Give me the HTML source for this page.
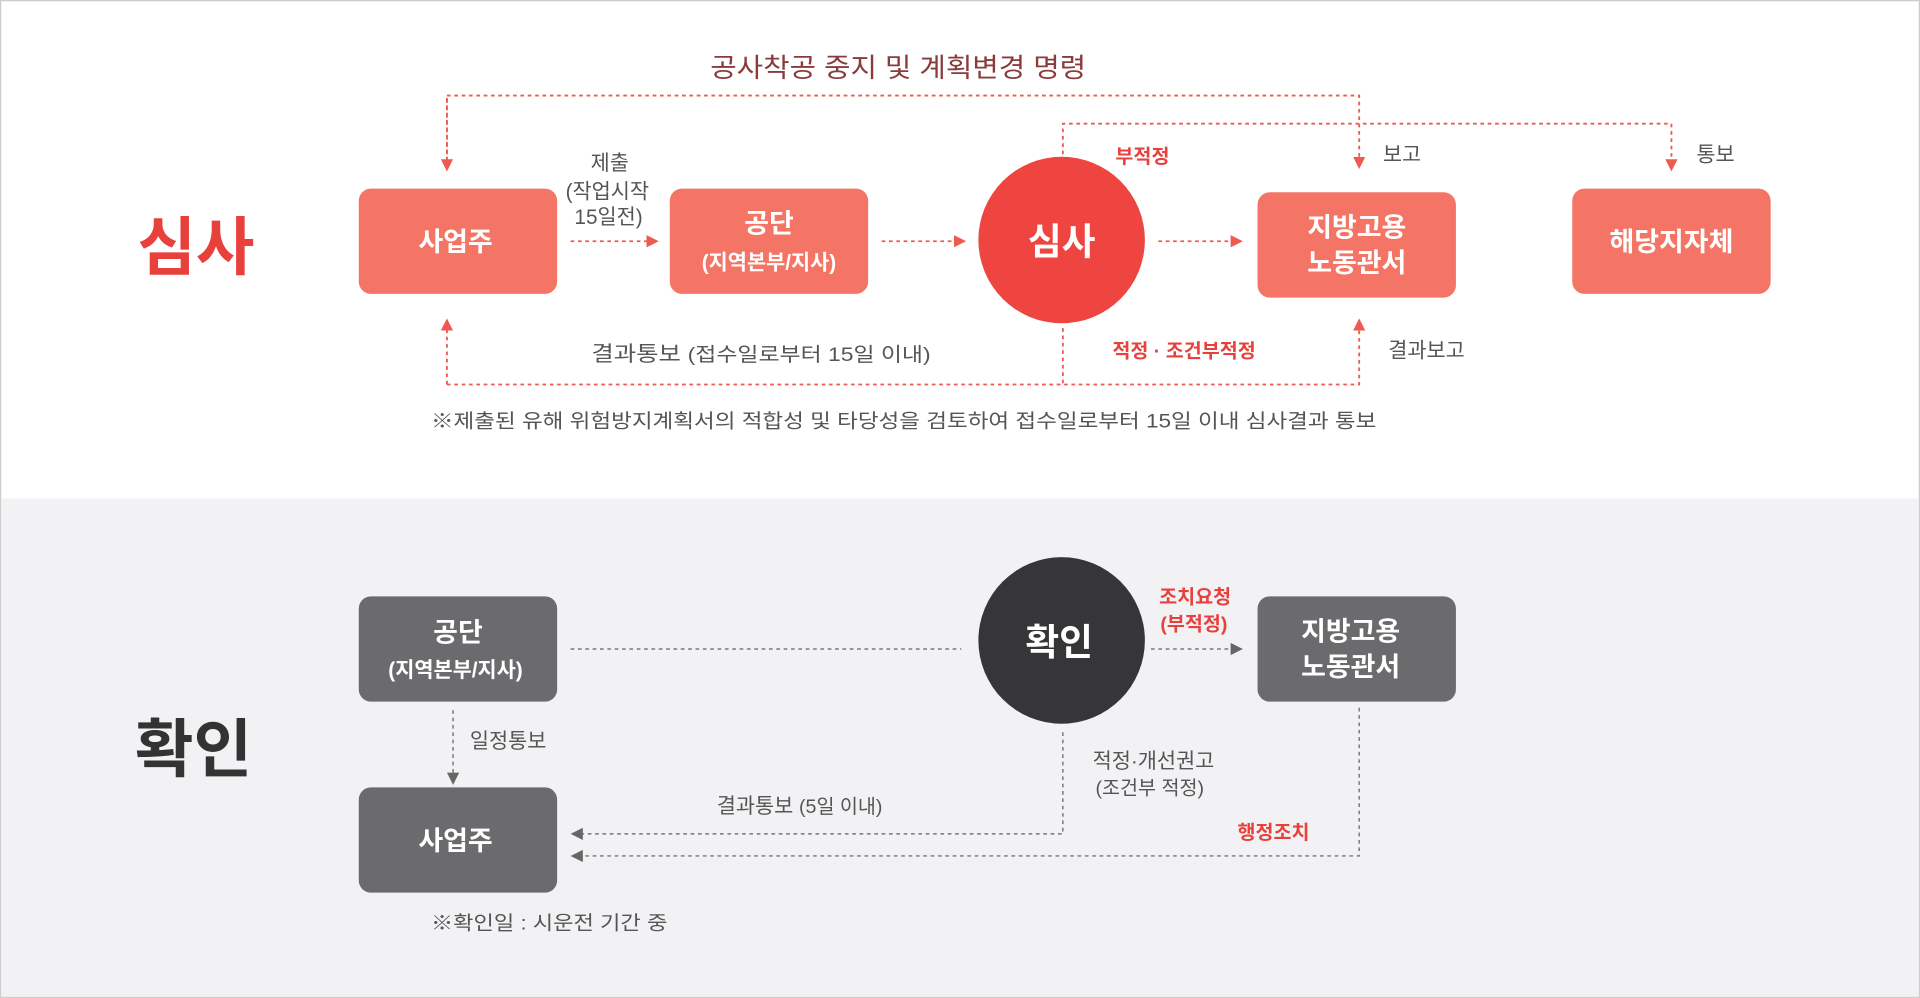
<!DOCTYPE html>
<html><head><meta charset="utf-8"><style>
html,body{margin:0;padding:0;background:#fff;}
svg{display:block;}
text{font-family:"Liberation Sans","Noto Sans CJK KR",sans-serif;}
</style></head><body>
<svg width="1920" height="998" viewBox="0 0 1568 815" xmlns="http://www.w3.org/2000/svg">
<defs>
<marker id="ar" markerWidth="10" markerHeight="10" refX="8" refY="5" orient="auto" markerUnits="userSpaceOnUse"><path d="M0,0 L10,5 L0,10 z" fill="#ee5a50"/></marker>
<marker id="ag" markerWidth="10" markerHeight="10" refX="8" refY="5" orient="auto" markerUnits="userSpaceOnUse"><path d="M0,0 L10,5 L0,10 z" fill="#666"/></marker>
</defs>
<rect x="0.5" y="0.5" width="1567" height="814" fill="#fff" stroke="#ccc"/>
<rect x="1" y="407" width="1566" height="407" fill="#f2f2f4"/>

<!-- TOP -->
<text x="160" y="220" font-size="52" font-weight="bold" fill="#e8413c" text-anchor="middle">심사</text>
<text x="580" y="63" font-size="22" fill="#8a3b3b" textLength="307" lengthAdjust="spacingAndGlyphs">공사착공 중지 및 계획변경 명령</text>
<g fill="none" stroke="#ee5a50" stroke-width="1.5" stroke-dasharray="3,3">
<path d="M365 138 V78 H1110 V136" marker-end="url(#ar)"/>
<path d="M365 80 V138" marker-end="url(#ar)"/>
<path d="M868 126 V101 H1365 V138" marker-end="url(#ar)"/>
<path d="M466 197 H536" marker-end="url(#ar)"/>
<path d="M720 197 H787" marker-end="url(#ar)"/>
<path d="M946 197 H1013" marker-end="url(#ar)"/>
<path d="M365 314 V262" marker-end="url(#ar)"/>
<path d="M365 314 H1110 V262" marker-end="url(#ar)"/>
<path d="M868 268 V314"/>
</g>
<rect x="293" y="154" width="162" height="86" rx="10" fill="#f47565"/>
<text x="372" y="205" font-size="22" font-weight="bold" fill="#fff" text-anchor="middle">사업주</text>
<rect x="547" y="154" width="162" height="86" rx="10" fill="#f47565"/>
<text x="628" y="190" font-size="22" font-weight="bold" fill="#fff" text-anchor="middle">공단</text>
<text x="628" y="220" font-size="17" font-weight="bold" fill="#fff" text-anchor="middle">(지역본부/지사)</text>
<circle cx="867" cy="196" r="68" fill="#ee4540"/>
<text x="867" y="208" font-size="30" font-weight="bold" fill="#fff" text-anchor="middle">심사</text>
<rect x="1027" y="157" width="162" height="86" rx="10" fill="#f47565"/>
<text x="1108" y="193" font-size="22" font-weight="bold" fill="#fff" text-anchor="middle">지방고용</text>
<text x="1108" y="222" font-size="22" font-weight="bold" fill="#fff" text-anchor="middle">노동관서</text>
<rect x="1284" y="154" width="162" height="86" rx="10" fill="#f47565"/>
<text x="1365" y="205" font-size="22" font-weight="bold" fill="#fff" text-anchor="middle">해당지자체</text>
<g font-size="17" fill="#555" text-anchor="middle">
<text x="498" y="139">제출</text>
<text x="496" y="162">(작업시작</text>
<text x="497" y="183">15일전)</text>
<text x="1145" y="132">보고</text>
<text x="1401" y="132">통보</text>
<text x="1165" y="292">결과보고</text>
</g>
<g font-size="17" fill="#555">
<text x="483" y="295" textLength="277" lengthAdjust="spacingAndGlyphs">결과통보 <tspan font-size="16">(접수일로부터 15일 이내)</tspan></text>
<text x="352" y="349" font-size="16" textLength="772" lengthAdjust="spacingAndGlyphs">※제출된 유해  위험방지계획서의 적합성 및 타당성을 검토하여 접수일로부터 15일 이내 심사결과 통보</text>
</g>
<text x="933" y="133" font-size="16" font-weight="bold" fill="#e8413c" text-anchor="middle">부적정</text>
<text x="967" y="292" font-size="16" font-weight="bold" fill="#e8413c" text-anchor="middle">적정 · 조건부적정</text>

<!-- BOTTOM -->
<text x="158" y="630" font-size="52" font-weight="bold" fill="#333" text-anchor="middle">확인</text>
<g fill="none" stroke="#777" stroke-width="1.2" stroke-dasharray="3,3">
<path d="M466 530 H785"/>
<path d="M940 530 H1013" marker-end="url(#ag)"/>
<path d="M370 580 V639" marker-end="url(#ag)"/>
<path d="M868 598 V681 H468" marker-end="url(#ag)"/>
<path d="M1110 578 V699 H468" marker-end="url(#ag)"/>
</g>
<rect x="293" y="487" width="162" height="86" rx="10" fill="#6b6b6e"/>
<text x="374" y="524" font-size="22" font-weight="bold" fill="#fff" text-anchor="middle">공단</text>
<text x="372" y="553" font-size="17" font-weight="bold" fill="#fff" text-anchor="middle">(지역본부/지사)</text>
<circle cx="867" cy="523" r="68" fill="#363638"/>
<text x="865" y="535" font-size="30" font-weight="bold" fill="#fff" text-anchor="middle">확인</text>
<rect x="1027" y="487" width="162" height="86" rx="10" fill="#6b6b6e"/>
<text x="1103" y="523" font-size="22" font-weight="bold" fill="#fff" text-anchor="middle">지방고용</text>
<text x="1103" y="552" font-size="22" font-weight="bold" fill="#fff" text-anchor="middle">노동관서</text>
<rect x="293" y="643" width="162" height="86" rx="10" fill="#6b6b6e"/>
<text x="372" y="694" font-size="22" font-weight="bold" fill="#fff" text-anchor="middle">사업주</text>
<g font-size="17" fill="#555" text-anchor="middle">
<text x="415" y="611">일정통보</text>
<text x="653" y="664">결과통보 <tspan font-size="16">(5일 이내)</tspan></text>
<text x="942" y="627">적정·개선권고</text>
<text x="939" y="649" font-size="16">(조건부 적정)</text>
</g>
<text x="352" y="759" font-size="16" fill="#555" textLength="193" lengthAdjust="spacingAndGlyphs">※확인일 : 시운전 기간 중</text>
<text x="976" y="493" font-size="16" font-weight="bold" fill="#e8413c" text-anchor="middle">조치요청</text>
<text x="975" y="515" font-size="16" font-weight="bold" fill="#e8413c" text-anchor="middle">(부적정)</text>
<text x="1040" y="685" font-size="16" font-weight="bold" fill="#e8413c" text-anchor="middle">행정조치</text>
</svg>
</body></html>
